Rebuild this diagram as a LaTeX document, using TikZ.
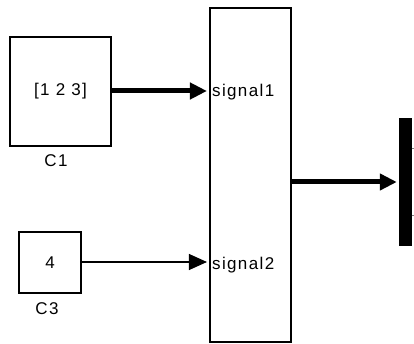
\documentclass[tikz,border=0pt]{standalone}
\usepackage{fontspec}
\setmainfont[LetterSpace=8]{Liberation Sans}
\usetikzlibrary{arrows.meta}
\begin{document}
\begin{tikzpicture}[x=1pt,y=-1pt,
  blk/.style={draw=black,line width=1.1pt,inner sep=0pt,fill=white},
  lbl/.style={font=\fontsize{17}{17}\selectfont,inner sep=0pt},
  portlbl/.style={font=\fontsize{17}{17}\selectfont,inner sep=0pt,anchor=west},
  thickwire/.style={line width=5pt,-{Triangle[length=17pt,width=16pt]},shorten >=2.5pt},
  thinwire/.style={line width=1.1pt,-{Triangle[length=18pt,width=16pt]},shorten >=2.5pt}]
\useasboundingbox (0,0) rectangle (414,344);
\node[blk,minimum width=101pt,minimum height=109pt] (c1) at (60.5,91.5) {};
\node[lbl] (c1txt) at (c1.center) {[1 2 3]};
\node[lbl] (c1lab) at (56,161) {C1};
\node[blk,minimum width=62pt,minimum height=61pt] (c3) at (50,262.5) {};
\node[lbl] (c3txt) at (c3.center) {4};
\node[lbl] (c3lab) at (47,309) {C3};
\node[blk,minimum width=81pt,minimum height=334pt] (bus) at (250.5,175) {};
\coordinate (in1) at (bus.west |- 0,91);
\coordinate (in2) at (bus.west |- 0,262);
\coordinate (out1) at (bus.east |- 0,182);
\node[portlbl] (s1) at (212,92) {signal1};
\node[portlbl] (s2) at (212,265) {signal2};
\node[draw=black,fill=black,inner sep=0pt,minimum width=12pt,minimum height=127pt] (bar) at (405.5,181.5) {};
\coordinate (barin) at (bar.west |- 0,182);
\draw[thickwire] (c1.east |- 0,91) -- (in1);
\draw[thinwire] (c3.east |- 0,262) -- (in2);
\draw[thickwire] (out1) -- (barin);
\coordinate (t1a) at (bar.east |- 0,148);
\coordinate (t1b) at (414,148);
\coordinate (t2a) at (bar.east |- 0,215);
\coordinate (t2b) at (414,215);
\draw[gray,line width=0.8pt] (t1a) -- (t1b);
\draw[gray,line width=0.8pt] (t2a) -- (t2b);
\end{tikzpicture}
\end{document}
